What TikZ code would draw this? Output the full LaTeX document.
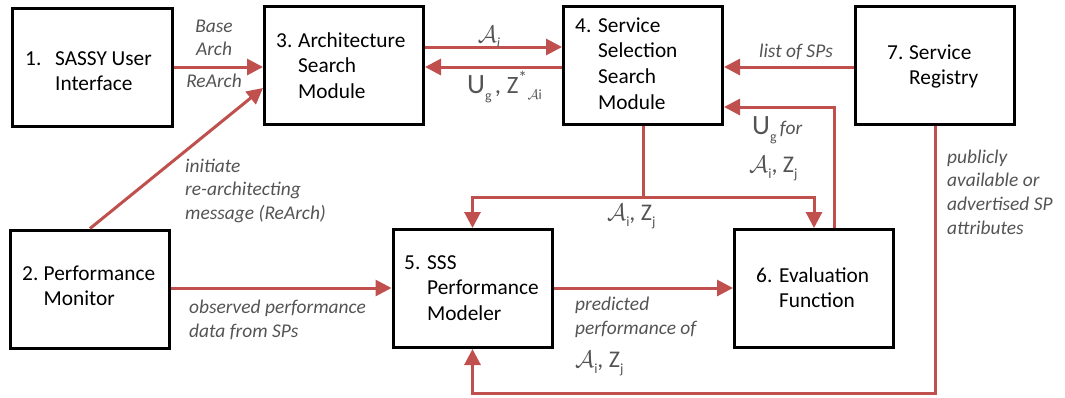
\documentclass[tikz,border=0pt]{standalone}
\usepackage{fix-cm}
\usepackage{fontspec}
\setmainfont{Carlito}
\usetikzlibrary{arrows.meta}

\definecolor{linkred}{HTML}{C0504D}
\definecolor{labelgray}{HTML}{545454}

% symbols used in the flow labels
\newcommand\ScA{\ensuremath{\mathcal{A}}}
\newcommand\lowsub[1]{\raisebox{-0.28em}{\fontsize{14}{14}\selectfont #1}}
\newcommand\AiZj{{\upshape\fontsize{24}{24}\selectfont\ScA\lowsub{i}, Z\lowsub{j}}}
\newcommand\bigU{{\upshape\fontsize{28}{28}\selectfont U\lowsub{g}}}

\tikzset{
  module/.style={draw=black, line width=3bp, minimum width=159bp, minimum height=118bp, inner sep=0pt, fill=white},
  modtext/.style={inner sep=0pt, anchor=base west, font=\fontsize{21.4}{26}\selectfont},
  flowlabel/.style={inner sep=0pt, text=labelgray, font=\fontsize{19.5}{24}\selectfont\itshape},
  flow/.style={draw=linkred, line width=3bp, -{Triangle[length=16bp,width=16bp]}},
  plainflow/.style={draw=linkred, line width=3bp},
}

\begin{document}
\begin{tikzpicture}[x=1bp, y=-1bp]
\useasboundingbox (0,0) rectangle (1065,397);

% module boxes
\node[module] (b1) at (92.5,67) {};
\node[module] (b2) at (90,289) {};
\node[module] (b3) at (344,65.5) {};
\node[module] (b4) at (643,65.5) {};
\node[module] (b5) at (472.5,288.5) {};
\node[module] (b6) at (814,288.5) {};
\node[module] (b7) at (935,65.5) {};

% module captions
\node[modtext] (t1) at (25,65) {\begin{tabular}[t]{@{}p{30bp}@{}l@{}}1. & SASSY User\\ & Interface\end{tabular}};
\node[modtext] (t2) at (22,280) {\begin{tabular}[t]{@{}p{21.5bp}@{}l@{}}2. & Performance\\ & Monitor\end{tabular}};
\node[modtext] (t3) at (276,47) {\begin{tabular}[t]{@{}p{22bp}@{}l@{}}3. & Architecture\\ & Search\\ & Module\end{tabular}};
\node[modtext] (t4) at (575,32) {\begin{tabular}[t]{@{}p{23bp}@{}l@{}}4. & Service\\ & Selection\\ & Search\\ & Module\end{tabular}};
\node[modtext] (t5) at (404,269) {\begin{tabular}[t]{@{}p{23bp}@{}l@{}}5. & SSS\\ & Performance\\ & Modeler\end{tabular}};
\node[modtext] (t6) at (756,282) {\begin{tabular}[t]{@{}p{23bp}@{}l@{}}6. & Evaluation\\ & Function\end{tabular}};
\node[modtext] (t7) at (887,59) {\begin{tabular}[t]{@{}p{22bp}@{}l@{}}7. & Service\\ & Registry\end{tabular}};

% connectors
\draw[flow] (b1.east) -- (b1.east -| b3.west);
\draw[flow] (b2.north) -- (b3.west |- 0,88);
\draw[flow] (b3.east |- 0,47) -- (b4.west |- 0,47);
\draw[flow] (b4.west |- 0,67) -- (b3.east |- 0,67);
\draw[flow] (b7.west |- 0,67) -- (b4.east |- 0,67);
\draw[flow] (b6.north -| 834,0) |- (b4.east |- 0,107);
\coordinate (split) at (b4.south |- 0,197);
\draw[plainflow] (b4.south) -- (split);
\draw[flow] (split) -| (b5.north);
\draw[flow] (split) -| (b6.north);
\draw[flow] (b2.east |- 0,288) -- (b5.west |- 0,288);
\draw[flow] (b5.east |- 0,288) -- (b6.west |- 0,288);
\draw[flow] (b7.south) |- (b5.south |- 0,393) -- (b5.south);

% connector labels
\node[flowlabel, anchor=base] (l13a) at (214,32) {\begin{tabular}[t]{@{}c@{}}Base\\ Arch\end{tabular}};
\node[flowlabel, anchor=base] (l13b) at (214,87) {ReArch};
\node[flowlabel, anchor=base west] (l23) at (185,172) {\begin{tabular}[t]{@{}l@{}}initiate\\ re-architecting\\ message (ReArch)\end{tabular}};
\node[flowlabel, anchor=base] (l34) at (489,42) {{\fontsize{24}{24}\selectfont\ScA}\lowsub{i}};
\node[flowlabel, anchor=base west] (l43) at (467,93) {\bigU\,{\upshape\fontsize{25}{25}\selectfont, Z\textsuperscript{*}\lowsub{\ScA i}}};
\node[flowlabel, anchor=base] (l74) at (796,57) {list of SPs};
\node[flowlabel, anchor=base west] (l64a) at (752,134) {\bigU\,for};
\node[flowlabel, anchor=base west] (l64b) at (749,172) {\AiZj};
\node[flowlabel, anchor=base west] (l45) at (607,220) {\AiZj};
\node[flowlabel, anchor=base west] (l25) at (189,313) {\begin{tabular}[t]{@{}l@{}}observed performance\\[1bp] data from SPs\end{tabular}};
\node[flowlabel, anchor=base west] (l56a) at (575,310) {\begin{tabular}[t]{@{}l@{}}predicted\\[1bp] performance of\end{tabular}};
\node[flowlabel, anchor=base west] (l56b) at (575,367) {\AiZj};
\node[flowlabel, anchor=base west] (l75) at (947,163) {\begin{tabular}[t]{@{}l@{}}publicly\\ available or\\ advertised SP\\ attributes\end{tabular}};
\end{tikzpicture}
\end{document}
